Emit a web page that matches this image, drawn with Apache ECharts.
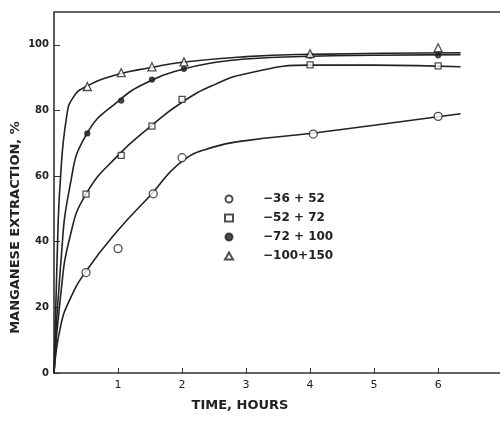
<!DOCTYPE html>
<html>
<head>
<meta charset="utf-8">
<script src="https://cdn.jsdelivr.net/npm/echarts@6/dist/echarts.min.js"></script>
<style>html,body{margin:0;padding:0;background:#fff;overflow:hidden;}#c{width:500px;height:421px;}</style>
</head>
<body>
<div id="c"></div>
<script>
// Legend names (particle size fractions)
const seriesNames = ['\u221236 + 52', '\u221252 + 72', '\u221272 + 100', '\u2212100+150'];

// Measured points [hours, % extraction]
const pts36 = [[0.5, 30.6], [1.0, 37.9], [1.55, 54.6], [2.0, 65.6], [4.05, 72.8], [6.0, 78.2]];
const pts52 = [[0.5, 54.5], [1.05, 66.3], [1.53, 75.2], [2.0, 83.4], [4.0, 93.9], [6.0, 93.6]];
const pts72 = [[0.52, 73.0], [1.05, 83.0], [1.53, 89.4], [2.03, 92.7], [4.0, 96.7], [6.0, 96.8]];
const pts100 = [[0.52, 87.3], [1.05, 91.5], [1.53, 93.3], [2.03, 94.8], [4.0, 97.3], [6.0, 99.1]];

// Fitted curves
const curve36 = [[0, 0], [0.1, 14], [0.25, 22.5], [0.5, 31], [1, 43.5], [1.5, 54], [2, 64.5], [2.5, 68.9], [3, 70.8], [4, 73], [5, 75.5], [6.35, 79]];
const curve52 = [[0, 0], [0.1, 23], [0.25, 41.5], [0.5, 54.5], [1, 66.3], [1.5, 75], [2, 82.5], [2.5, 87.8], [3, 91.2], [4, 93.8], [5, 93.8], [6.35, 93.3]];
const curve72 = [[0, 0], [0.1, 32], [0.25, 57], [0.5, 72.5], [1, 82.8], [1.5, 89], [2, 92.5], [2.5, 94.6], [3, 95.7], [4, 96.5], [5, 96.8], [6.35, 97]];
const curve100 = [[0, 0], [0.05, 36], [0.1, 59], [0.2, 78.5], [0.3, 84], [0.5, 87.3], [1, 91], [1.5, 93], [2, 94.7], [3, 96.4], [4, 97.1], [6.35, 97.6]];

const xTicks = [1, 2, 3, 4, 5, 6];
const yTicks = [0, 20, 40, 60, 80, 100];
const xMax = 7.06;
const yMax = 110;

const ink = '#222';
const font = 'DejaVu Sans';

function curve(data) {
  return {type: 'line', data: data, smooth: 0.5, showSymbol: false, silent: true,
    lineStyle: {color: ink, width: 1.6}, z: 2};
}
function marks(name, data, symbol, size, filled) {
  return {type: 'scatter', name: name, data: data, symbol: symbol, symbolSize: size, z: 3,
    itemStyle: {color: filled ? ink : '#fff', borderColor: ink, borderWidth: 1.3}};
}

const chart = echarts.init(document.getElementById('c'));
chart.setOption({
  backgroundColor: '#fff',
  animation: false,
  grid: {left: 54, right: -6, top: 12, bottom: 48, outerBoundsMode: 'none', containLabel: false},
  xAxis: {
    type: 'value', min: 0, max: xMax, interval: 1,
    name: 'TIME, HOURS', nameLocation: 'middle', nameGap: 26,
    nameTextStyle: {fontFamily: font, fontSize: 13, fontWeight: 'bold', color: ink, padding: [0, 80, 0, 0]},
    axisLine: {lineStyle: {color: '#333', width: 1.6}},
    axisTick: {inside: true, length: 5, customValues: xTicks, lineStyle: {color: '#333'}},
    splitLine: {show: false},
    axisLabel: {fontFamily: font, fontSize: 11, color: ink, margin: 7, customValues: xTicks}
  },
  yAxis: {
    type: 'value', min: 0, max: yMax, interval: 20,
    name: 'MANGANESE EXTRACTION, %', nameLocation: 'middle', nameGap: 32, nameRotate: 90,
    nameMoveOverlap: false,
    nameTextStyle: {fontFamily: font, fontSize: 13, fontWeight: 'bold', color: ink, padding: [0, 70, 0, 0]},
    axisLine: {lineStyle: {color: '#333', width: 1.6}},
    axisTick: {inside: true, length: 6, customValues: yTicks, lineStyle: {color: '#333'}},
    splitLine: {show: false},
    axisLabel: {fontFamily: font, fontSize: 10, color: ink, margin: 5, fontWeight: 'bold', customValues: yTicks}
  },
  legend: {
    orient: 'vertical', left: 219, top: 188, itemWidth: 8, itemHeight: 7, itemGap: 7,
    data: seriesNames,
    textStyle: {fontFamily: font, fontSize: 12, fontWeight: 'bold', color: ink, padding: [0, 0, 0, 25]}
  },
  series: [
    curve(curve36), curve(curve52), curve(curve72), curve(curve100),
    marks(seriesNames[0], pts36, 'circle', 8, false),
    marks(seriesNames[1], pts52, 'rect', 6, false),
    marks(seriesNames[2], pts72, 'circle', 5, true),
    marks(seriesNames[3], pts100, 'triangle', 8, false)
  ]
});
// Top frame line, placed through the chart's own scales
const p0 = chart.convertToPixel({gridIndex: 0}, [0, yMax]);
const p1 = chart.convertToPixel({gridIndex: 0}, [xMax, yMax]);
chart.setOption({graphic: [{type: 'line', shape: {x1: p0[0], y1: p0[1], x2: p1[0], y2: p1[1]},
  style: {stroke: '#333', lineWidth: 1.6}, silent: true}]});
</script>
</body>
</html>
